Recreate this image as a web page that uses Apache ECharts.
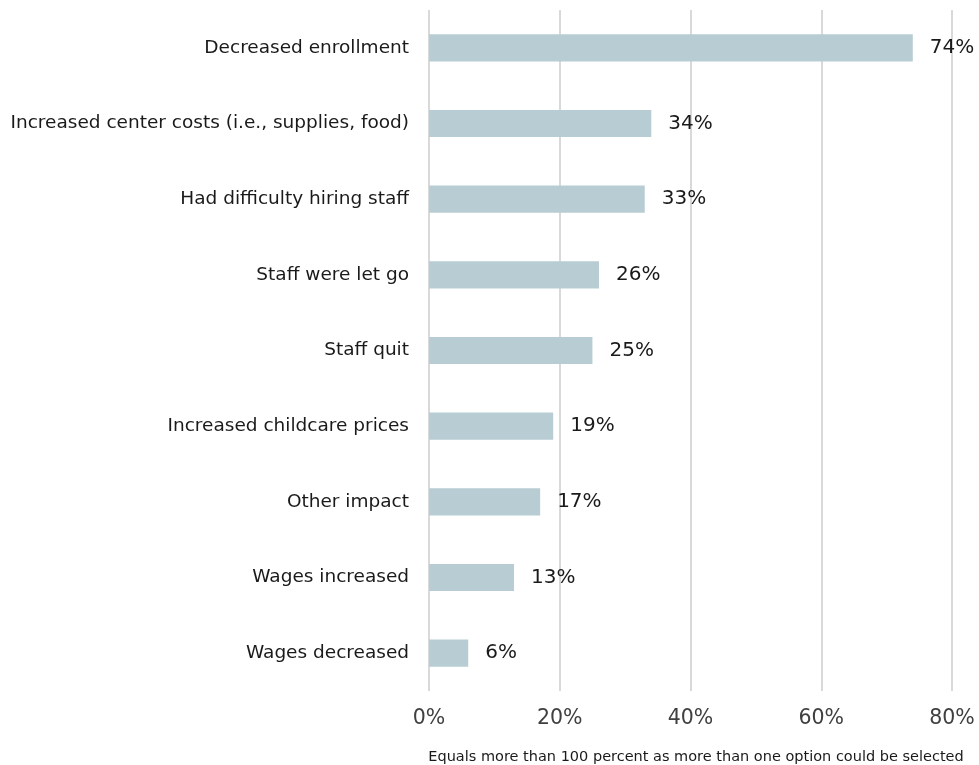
<!DOCTYPE html>
<html>
<head>
<meta charset="utf-8">
<script src="https://cdn.jsdelivr.net/npm/echarts@6/dist/echarts.min.js"></script>
<style>
  html, body { margin: 0; padding: 0; background: #ffffff; }
  #chart { width: 979px; height: 765px; }
</style>
</head>
<body>
<div id="chart"></div>
<script>
// Reported impacts on centers (share of respondents, %)
const categories = [
  'Decreased enrollment',
  'Increased center costs (i.e., supplies, food)',
  'Had difficulty hiring staff',
  'Staff were let go',
  'Staff quit',
  'Increased childcare prices',
  'Other impact',
  'Wages increased',
  'Wages decreased'
];
const values = [74, 34, 33, 26, 25, 19, 17, 13, 6];
const xTicks = [0, 20, 40, 60, 80];
const footnote = 'Equals more than 100 percent as more than one option could be selected';

const FONT = '"DejaVu Sans", sans-serif';

const chart = echarts.init(document.getElementById('chart'), null, { renderer: 'canvas' });
chart.setOption({
  animation: false,
  backgroundColor: '#ffffff',
  grid: { left: 429, right: 27, top: 10, bottom: 74, containLabel: false },
  xAxis: {
    type: 'value',
    min: xTicks[0],
    max: xTicks[xTicks.length - 1],
    interval: 20,
    axisLine: { show: false },
    axisTick: { show: false },
    splitLine: { show: true, lineStyle: { color: '#d9d9d9', width: 2 } },
    axisLabel: {
      formatter: v => v + '%',
      color: '#404040',
      fontFamily: FONT,
      fontSize: 20.5,
      margin: 17
    }
  },
  yAxis: {
    type: 'category',
    data: categories,
    inverse: true,
    axisLine: { show: false },
    axisTick: { show: false },
    axisLabel: {
      color: '#1a1a1a',
      fontFamily: FONT,
      fontSize: 18.5,
      margin: 20
    }
  },
  series: [{
    type: 'bar',
    data: values,
    barWidth: '36%',
    itemStyle: { color: '#b7cdd3' },
    label: {
      show: true,
      position: 'right',
      distance: 17,
      formatter: p => p.value + '%',
      color: '#1a1a1a',
      fontFamily: FONT,
      fontSize: 20
    }
  }],
  graphic: [{
    type: 'text',
    x: 696,
    y: 757,
    style: {
      text: footnote,
      fill: '#1a1a1a',
      font: '14.5px ' + FONT,
      align: 'center',
      verticalAlign: 'middle'
    }
  }]
});
</script>
</body>
</html>
